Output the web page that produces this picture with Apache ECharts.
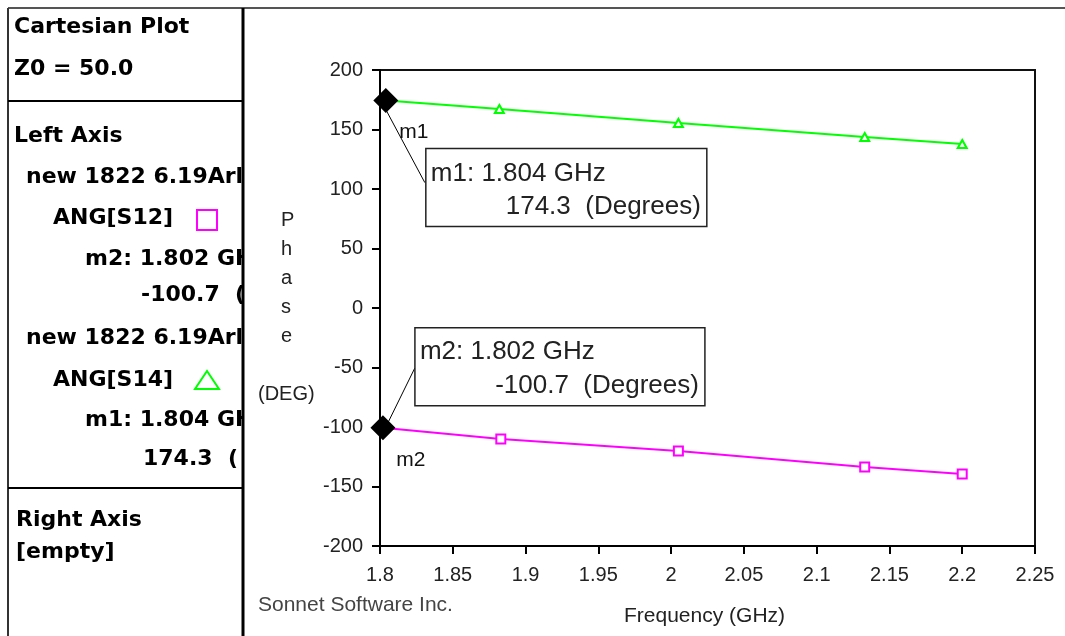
<!DOCTYPE html>
<html>
<head>
<meta charset="utf-8">
<script src="https://cdn.jsdelivr.net/npm/echarts@6/dist/echarts.min.js"></script>
<style>
html, body { margin: 0; padding: 0; background: #fff; }
#chart { width: 1065px; height: 636px; }
</style>
</head>
<body>
<div id="chart"></div>
<script>
// ANG[S14] (green) and ANG[S12] (magenta), frequency in GHz, phase in degrees
var freqS14 = [1.8, 1.882, 2.005, 2.133, 2.2];
var angS14 = [174.7, 167.2, 155.5, 143.7, 137.8];
var freqS12 = [1.8, 1.883, 2.005, 2.133, 2.2];
var angS12 = [-100.5, -110.0, -120.2, -133.6, -139.5];

// markers
var markerNames = ['m1', 'm2'];
var markerFreq = [1.804, 1.802];
var markerValue = [174.3, -100.7];

// axes
var xTicks = [1.8, 1.85, 1.9, 1.95, 2, 2.05, 2.1, 2.15, 2.2, 2.25];
var yTicks = [-200, -150, -100, -50, 0, 50, 100, 150, 200];

var sans = '"Liberation Sans", Arial, sans-serif';
var bold = 'bold 22px "DejaVu Sans", sans-serif';

function lineData(fs, vs) {
    return fs.map(function (f, i) {
        var d = { value: [f, vs[i]] };
        if (i === 0) d.symbol = 'none';
        return d;
    });
}

var chart = echarts.init(document.getElementById('chart'));

chart.setOption({
    animation: false,
    backgroundColor: '#fff',
    grid: {
        left: 380, right: 30, top: 70, bottom: 90,
        show: true, borderColor: '#111', borderWidth: 2, backgroundColor: '#fff'
    },
    xAxis: {
        type: 'value',
        min: xTicks[0],
        max: xTicks[xTicks.length - 1],
        interval: 0.05,
        axisLine: { onZero: false, lineStyle: { color: '#000', width: 2 } },
        axisTick: { length: 8, lineStyle: { color: '#000', width: 2 } },
        axisLabel: { color: '#222', fontFamily: sans, fontSize: 20, margin: 19 },
        splitLine: { show: false }
    },
    yAxis: {
        type: 'value',
        min: yTicks[0],
        max: yTicks[yTicks.length - 1],
        interval: 50,
        axisLine: { show: true, onZero: false, lineStyle: { color: '#000', width: 2 } },
        axisTick: { show: true, length: 8, lineStyle: { color: '#000', width: 2 } },
        axisLabel: { color: '#222', fontFamily: sans, fontSize: 20, margin: 17 },
        splitLine: { show: false }
    },
    series: [
        {
            name: 'ANG[S14]',
            type: 'line',
            data: lineData(freqS14, angS14),
            symbol: 'emptyTriangle',
            symbolSize: [9, 8],
            itemStyle: { color: '#00ff00', borderWidth: 1.5 },
            lineStyle: { color: '#00ff00', width: 2 }
        },
        {
            name: 'ANG[S12]',
            type: 'line',
            data: lineData(freqS12, angS12),
            symbol: 'emptyRect',
            symbolSize: 9,
            itemStyle: { color: '#ff00ff', borderWidth: 1.5 },
            lineStyle: { color: '#ff00ff', width: 2 }
        },
        {
            name: 'markers',
            type: 'scatter',
            clip: false,
            z: 5,
            symbol: 'diamond',
            symbolSize: 25,
            itemStyle: { color: '#000', opacity: 1 },
            data: markerNames.map(function (n, i) {
                return { name: n, value: [markerFreq[i], markerValue[i]] };
            }),
            label: {
                show: true,
                position: 'inside',
                offset: [28, 32],
                formatter: '{b}',
                color: '#111',
                fontFamily: sans,
                fontSize: 21
            }
        }
    ]
});

// marker annotation boxes, placed from the marker pixel positions
var p1 = chart.convertToPixel({ gridIndex: 0 }, [markerFreq[0], markerValue[0]]);
var p2 = chart.convertToPixel({ gridIndex: 0 }, [markerFreq[1], markerValue[1]]);
var boxFont = '26px ' + sans;

function panelText(id, txt, x, y) {
    return {
        type: 'text', id: id, left: x, top: y - 14, z: 10,
        style: {
            text: txt, font: bold, fill: '#000',
            width: 256 - x, overflow: 'truncate', ellipsis: ''
        }
    };
}

var graphics = [
    panelText('t1', 'Cartesian Plot', 14, 30),
    panelText('t2', 'Z0 = 50.0', 14, 72),
    panelText('t3', 'Left Axis', 14, 139),
    panelText('t4', 'new 1822 6.19Arlon', 26, 180),
    panelText('t5', 'ANG[S12]', 53, 221),
    panelText('t6', 'm2: 1.802 GHz', 85, 262),
    panelText('t7', '-100.7  (Degrees)', 141, 298),
    panelText('t8', 'new 1822 6.19Arlon', 26, 341),
    panelText('t9', 'ANG[S14]', 53, 383),
    panelText('t10', 'm1: 1.804 GHz', 85, 423),
    panelText('t11', '174.3  (Degrees)', 143, 462),
    panelText('t12', 'Right Axis', 16, 523),
    panelText('t13', '[empty]', 16, 555),
    { type: 'rect', z: 10, shape: { x: 197, y: 210, width: 20, height: 20 }, style: { fill: 'none', stroke: '#ff00ff', lineWidth: 2 } },
    { type: 'polygon', z: 10, shape: { points: [[195, 389], [219, 389], [207, 371]] }, style: { fill: 'none', stroke: '#00ff00', lineWidth: 2 } },

    // mask the clipped panel text, then the panel frame
    { type: 'rect', z: 11, shape: { x: 244, y: 9, width: 12, height: 627 }, style: { fill: '#fff' } },
    { type: 'line', z: 12, shape: { x1: 8, y1: 8, x2: 1065, y2: 8 }, style: { stroke: '#555', lineWidth: 2 } },
    { type: 'line', z: 12, shape: { x1: 8, y1: 8, x2: 8, y2: 636 }, style: { stroke: '#333', lineWidth: 2 } },
    { type: 'line', z: 12, shape: { x1: 243, y1: 8, x2: 243, y2: 636 }, style: { stroke: '#000', lineWidth: 3 } },
    { type: 'line', z: 12, shape: { x1: 8, y1: 101, x2: 243, y2: 101 }, style: { stroke: '#000', lineWidth: 2 } },
    { type: 'line', z: 12, shape: { x1: 8, y1: 488, x2: 243, y2: 488 }, style: { stroke: '#000', lineWidth: 2 } },

    // axis names and footer
    {
        type: 'text', left: 281, top: 206,
        style: { text: 'P\nh\na\ns\ne', font: '20px ' + sans, fill: '#222', lineHeight: 29, align: 'center' }
    },
    { type: 'text', left: 258, top: 384, style: { text: '(DEG)', font: '20px ' + sans, fill: '#222' } },
    { type: 'text', left: 624, top: 606, style: { text: 'Frequency (GHz)', font: '21px ' + sans, fill: '#222' } },
    { type: 'text', left: 258, top: 595, style: { text: 'Sonnet Software Inc.', font: '21px ' + sans, fill: '#444' } },

    // m1 annotation
    { type: 'line', z: 6, shape: { x1: p1[0], y1: p1[1] + 9, x2: p1[0] + 39, y2: p1[1] + 82 }, style: { stroke: '#000', lineWidth: 1 } },
    { type: 'rect', z: 6, shape: { x: p1[0] + 40, y: p1[1] + 48, width: 281, height: 78 }, style: { fill: '#fff', stroke: '#222', lineWidth: 1.5 } },
    { type: 'text', z: 7, x: p1[0] + 45, y: p1[1] + 73, style: { text: 'm1: 1.804 GHz', font: boxFont, fill: '#222', verticalAlign: 'middle' } },
    { type: 'text', z: 7, x: p1[0] + 315, y: p1[1] + 106, style: { text: '174.3  (Degrees)', font: boxFont, fill: '#222', align: 'right', verticalAlign: 'middle' } },

    // m2 annotation
    { type: 'line', z: 6, shape: { x1: p2[0] + 4, y1: p2[1] - 3, x2: p2[0] + 32, y2: p2[1] - 60 }, style: { stroke: '#000', lineWidth: 1 } },
    { type: 'rect', z: 6, shape: { x: p2[0] + 32, y: p2[1] - 100, width: 290, height: 78 }, style: { fill: '#fff', stroke: '#222', lineWidth: 1.5 } },
    { type: 'text', z: 7, x: p2[0] + 37, y: p2[1] - 76, style: { text: 'm2: 1.802 GHz', font: boxFont, fill: '#222', verticalAlign: 'middle' } },
    { type: 'text', z: 7, x: p2[0] + 316, y: p2[1] - 42, style: { text: '-100.7  (Degrees)', font: boxFont, fill: '#222', align: 'right', verticalAlign: 'middle' } }
];

chart.setOption({ graphic: graphics });
</script>
</body>
</html>
